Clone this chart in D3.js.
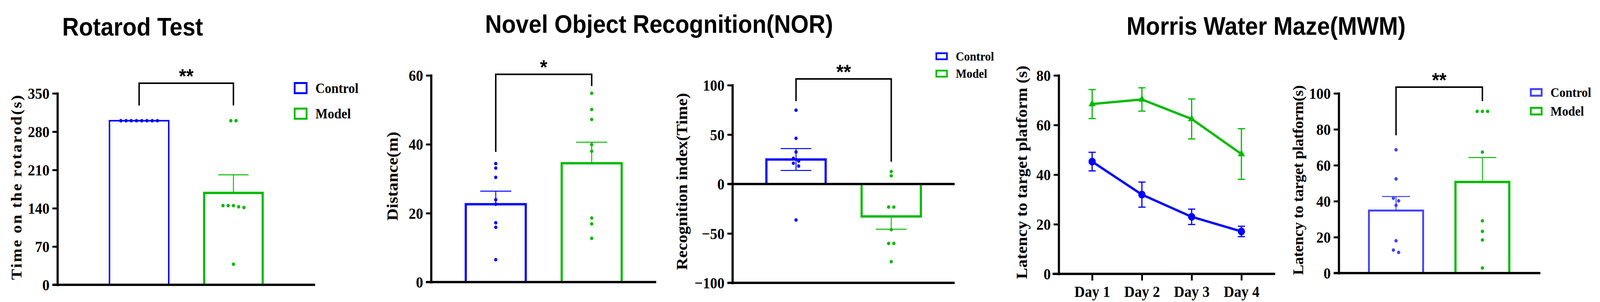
<!DOCTYPE html>
<html>
<head>
<meta charset="utf-8">
<script src="https://cdn.jsdelivr.net/npm/d3@7"></script>
<style>
  html, body { margin: 0; padding: 0; background: #ffffff; overflow: hidden; width: 100%; height: 100%; }
  #chart { width: 100vw; height: 100vh; }
  svg { display: block; width: 100vw; height: 100vh; }
</style>
</head>
<body>
<div id="chart"></div>
<script>
// ---------------- DATA ----------------
const groups = ["Control", "Model"];
const days = ["Day 1", "Day 2", "Day 3", "Day 4"];

const titles = ["Rotarod Test", "Novel Object Recognition(NOR)", "Morris Water Maze(MWM)"];

// Rotarod
const rotarodTicks = [0, 70, 140, 210, 280, 350];
const rotarodControl = [300, 300, 300, 300, 300, 300, 300, 300];
const rotarodModel = [300, 300, 144.8, 142.7, 144.8, 141.3, 144.8, 37.6];
const rotarodMean = [300, 168];
const rotarodSem = [0, 33];
const rotarodSig = { label: "**", level: 368.6, legs: [327.9, 327.9] };

// NOR distance
const norDistTicks = [0, 20, 40, 60];
const norDistControl = [34.4, 33.1, 30.4, 23.9, 22.6, 17.2, 15.9, 6.5];
const norDistModel = [54.8, 50.1, 47.2, 39.9, 38.0, 18.6, 16.9, 12.7];
const norDistMean = [22.6, 34.5];
const norDistSem = [3.8, 6.1];
const norDistSig = { label: "*", level: 60.3, legs: [37.8, 56.9] };

// NOR recognition index
const norRiTicks = [-100, -50, 0, 50, 100];
const norRiControl = [74.7, 46.2, 32.4, 26.0, 23.3, 21.0, 18.2, -36.4];
const norRiModel = [12.6, 8.3, -23.3, -23.3, -46.2, -60.1, -60.1, -78.6];
const norRiMean = [24.8, -32.8];
const norRiSem = [11.1, 13.0];
const norRiSig = { label: "**", level: 106.3, legs: [83.8, 22.5] };

// MWM latency over days
const mwmLineTicks = [0, 20, 40, 60, 80];
const mwmControlMean = [45.25, 31.95, 23.0, 17.1];
const mwmControlSem = [3.75, 5.05, 3.1, 2.1];
const mwmModelMean = [68.45, 70.3, 62.45, 48.3];
const mwmModelSem = [5.85, 4.7, 8.05, 10.2];

// MWM probe latency
const mwmBarTicks = [0, 20, 40, 60, 80, 100];
const mwmBarControl = [68.6, 52.4, 41.7, 40.2, 37.7, 18.0, 12.8, 11.5];
const mwmBarModel = [90, 90, 90, 67.3, 29.1, 23.2, 18.4, 2.8];
const mwmBarMean = [34.8, 50.7];
const mwmBarSem = [7.8, 13.6];
const mwmBarSig = { label: "**", level: 103.5, legs: [76.7, 95.7] };

const yTitles = ["Time on the rotarod(s)", "Distance(m)", "Recognition index(Time)",
                 "Latency to target platform (s)", "Latency to target platform(s)"];

// ---------------- STYLE ----------------
const BLUE = "#0000ff", BLUE2 = "#4040ff", GREEN = "#00bb00";
const SERIF = "'Liberation Serif', 'Times New Roman', serif";
const SANS = "'Liberation Sans', Arial, sans-serif";

const W = 4428, H = 773;
const svg = d3.select("#chart").append("svg")
  .attr("viewBox", `0 0 ${W} ${H}`).attr("preserveAspectRatio", "none");
svg.append("rect").attr("width", W).attr("height", H).attr("fill", "#fff");

// Titles
const titlePos = [[367, 91], [1824, 84], [3504, 89]];
titles.forEach((t, i) => {
  svg.append("text").attr("x", titlePos[i][0]).attr("y", titlePos[i][1])
    .attr("text-anchor", "middle").attr("font-family", SANS).attr("font-weight", "bold")
    .attr("font-size", 64).attr("fill", "#000").text(t);
});

function yAxis(g, y, ticks, axisX) {
  const ax = d3.axisLeft(y).tickValues(ticks).tickSize(14).tickSizeOuter(0).tickPadding(8)
    .tickFormat(d3.format("d"));
  const a = g.append("g").attr("transform", `translate(${axisX},0)`).call(ax);
  a.select(".domain").attr("stroke", "#000").attr("stroke-width", 6).attr("stroke-linecap", "square");
  a.selectAll(".tick line").attr("stroke", "#000").attr("stroke-width", 5);
  a.selectAll(".tick text").attr("font-family", SERIF).attr("font-weight", "bold")
    .attr("font-size", 40).attr("fill", "#000").attr("dy", "0.34em");
  return a;
}

function yTitle(g, text, bx, cy, len, fs) {
  g.append("text").attr("transform", `translate(${bx},${cy}) rotate(-90)`)
    .attr("text-anchor", "middle").attr("font-family", SERIF).attr("font-weight", "bold")
    .attr("font-size", fs).attr("fill", "#000")
    .attr("textLength", len).attr("lengthAdjust", "spacing").text(text);
}

function hline(g, x1, x2, yv, w) {
  g.append("line").attr("x1", x1).attr("x2", x2).attr("y1", yv).attr("y2", yv)
    .attr("stroke", "#000").attr("stroke-width", w);
}

function spread(values, y, cx, spacing = 14.5, thr = 9) {
  const pts = values.map(v => ({ v, y: y(v) })).sort((a, b) => a.y - b.y);
  const rows = []; let cur = null;
  pts.forEach(p => {
    if (cur && p.y - cur[0].y < thr) cur.push(p); else { cur = [p]; rows.push(cur); }
  });
  rows.forEach(r => r.forEach((p, i) => { p.x = cx + (i - (r.length - 1) / 2) * spacing; }));
  return pts;
}

function legend(g, x, ys, w, h, sw, fs, colors) {
  groups.forEach((name, i) => {
    g.append("rect").attr("x", x + sw / 2).attr("y", ys[i] - h / 2 + sw / 2)
      .attr("width", w - sw).attr("height", h - sw)
      .attr("fill", "#fff").attr("stroke", colors[i]).attr("stroke-width", sw);
    g.append("text").attr("x", x + w + 22).attr("y", ys[i]).attr("dy", "0.34em")
      .attr("font-family", SERIF).attr("font-weight", "bold").attr("font-size", fs)
      .attr("fill", "#000").text(name);
  });
}

function sig(g, x, y, s) {
  const yl = y(s.level);
  const xs = groups.map(x);
  g.append("path")
    .attr("d", `M${xs[0]},${y(s.legs[0])}V${yl}H${xs[1]}V${y(s.legs[1])}`)
    .attr("fill", "none").attr("stroke", "#000").attr("stroke-width", 4);
  g.append("text").attr("x", (xs[0] + xs[1]) / 2).attr("y", yl)
    .attr("text-anchor", "middle").attr("font-family", SANS).attr("font-weight", "bold")
    .attr("font-size", 52).attr("fill", "#000").text(s.label);
}

function barPanel(cfg) {
  const g = svg.append("g");
  const y = d3.scaleLinear().domain(cfg.domain).range(cfg.yRange);
  const x = d3.scalePoint().domain(groups).range(cfg.centers);
  const y0 = y(0);
  const pointSets = [cfg.control, cfg.model];
  groups.forEach((grp, i) => {
    const cx = x(grp), m = cfg.mean[i], sw = cfg.barStroke[i];
    const ym = y(m);
    g.append("rect").attr("x", cx - cfg.barW / 2 + sw / 2).attr("y", Math.min(ym, y0))
      .attr("width", cfg.barW - sw).attr("height", Math.abs(ym - y0))
      .attr("fill", "none").attr("stroke", cfg.colors[i]).attr("stroke-width", sw);
    const s = cfg.sem[i];
    if (s > 0) {
      const dir = m >= 0 ? 1 : -1;
      const ends = cfg.both[i] ? [m - s, m + s] : [m, m + dir * s];
      g.append("line").attr("x1", cx).attr("x2", cx).attr("y1", y(ends[0])).attr("y2", y(ends[1]))
        .attr("stroke", cfg.colors[i]).attr("stroke-width", 2.5);
      const capVals = cfg.both[i] ? ends : [ends[1]];
      capVals.forEach(v => {
        g.append("line").attr("x1", cx - cfg.barW / 4).attr("x2", cx + cfg.barW / 4)
          .attr("y1", y(v)).attr("y2", y(v)).attr("stroke", cfg.colors[i]).attr("stroke-width", 2.5);
      });
    }
    spread(pointSets[i], y, cx).forEach(p => {
      g.append("circle").attr("cx", p.x).attr("cy", p.y).attr("r", 4.5).attr("fill", cfg.colors[i]);
    });
  });
  yAxis(g, y, cfg.ticks, cfg.axisX);
  hline(g, cfg.axisX - 14, cfg.xRight, y0, 6);
  if (cfg.domain[0] < 0) hline(g, cfg.axisX - 14, cfg.xRight, y(cfg.domain[0]), 6);
  yTitle(g, cfg.yTitle, cfg.titleX, cfg.titleY, cfg.titleLen, cfg.titleFs);
  sig(g, x, y, cfg.sig);
  if (cfg.legend) legend(g, cfg.legend.x, cfg.legend.ys, cfg.legend.w, cfg.legend.h,
    cfg.legend.sw, cfg.legend.fs, cfg.colors);
}

// Panel 1: Rotarod
barPanel({
  domain: [0, 350], yRange: [729, 239], ticks: rotarodTicks, axisX: 159, xRight: 872,
  centers: [385, 646], barW: 168, barStroke: [4, 6], colors: [BLUE, GREEN],
  control: rotarodControl, model: rotarodModel, mean: rotarodMean, sem: rotarodSem,
  both: [false, false], sig: rotarodSig,
  yTitle: yTitles[0], titleX: 59, titleY: 480, titleLen: 473, titleFs: 42,
  legend: { x: 813, ys: [225.5, 291], w: 38, h: 31, sw: 5, fs: 36 }
});

// Panel 2: NOR distance
barPanel({
  domain: [0, 60], yRange: [722, 193], ticks: norDistTicks, axisX: 1193, xRight: 1816,
  centers: [1372, 1637.5], barW: 172, barStroke: [6, 6], colors: [BLUE, GREEN],
  control: norDistControl, model: norDistModel, mean: norDistMean, sem: norDistSem,
  both: [false, false], sig: norDistSig,
  yTitle: yTitles[1], titleX: 1101, titleY: 451, titleLen: 228, titleFs: 44
});

// Panel 3: NOR recognition index
barPanel({
  domain: [-100, 100], yRange: [724, 218], ticks: norRiTicks, axisX: 2027, xRight: 2642,
  centers: [2203, 2466.5], barW: 170, barStroke: [6, 6], colors: [BLUE, GREEN],
  control: norRiControl, model: norRiModel, mean: norRiMean, sem: norRiSem,
  both: [true, false], sig: norRiSig,
  yTitle: yTitles[2], titleX: 1902, titleY: 464.5, titleLen: 453, titleFs: 43,
  legend: { x: 2589, ys: [144, 188.5], w: 34, h: 20, sw: 4.5, fs: 32 }
});

// Panel 4: MWM line chart
(function () {
  const g = svg.append("g");
  const y = d3.scaleLinear().domain([0, 80]).range([701, 193]);
  const x = d3.scalePoint().domain(days).range([3022.5, 3435.6]);
  const axisX = 2930;
  const series = [
    { mean: mwmControlMean, sem: mwmControlSem, color: BLUE, shape: "circle" },
    { mean: mwmModelMean, sem: mwmModelSem, color: GREEN, shape: "triangle" }
  ];
  series.forEach(s => {
    days.forEach((d, i) => {
      const cx = x(d), lo = y(s.mean[i] - s.sem[i]), hi = y(s.mean[i] + s.sem[i]);
      g.append("line").attr("x1", cx).attr("x2", cx).attr("y1", lo).attr("y2", hi)
        .attr("stroke", s.color).attr("stroke-width", 3.3);
      [lo, hi].forEach(v => g.append("line").attr("x1", cx - 10).attr("x2", cx + 10)
        .attr("y1", v).attr("y2", v).attr("stroke", s.color).attr("stroke-width", 3));
    });
  });
  series.forEach(s => {
    const line = d3.line().x((d, i) => x(days[i])).y(d => y(d));
    g.append("path").attr("d", line(s.mean)).attr("fill", "none")
      .attr("stroke", s.color).attr("stroke-width", 6).attr("stroke-linejoin", "round");
  });
  series.forEach(s => {
    s.mean.forEach((v, i) => {
      if (s.shape === "circle") {
        g.append("circle").attr("cx", x(days[i])).attr("cy", y(v)).attr("r", 10).attr("fill", s.color);
      } else {
        g.append("path").attr("d", d3.symbol(d3.symbolTriangle, 170)())
          .attr("transform", `translate(${x(days[i])},${y(v)})`).attr("fill", s.color);
      }
    });
  });
  yAxis(g, y, mwmLineTicks, axisX);
  hline(g, axisX - 17, 3529, y(0), 6);
  const xa = d3.axisBottom(x).tickSize(17).tickSizeOuter(0).tickPadding(14);
  const a = g.append("g").attr("transform", `translate(0,${y(0)})`).call(xa);
  a.select(".domain").remove();
  a.selectAll(".tick line").attr("stroke", "#000").attr("stroke-width", 5);
  a.selectAll(".tick text").attr("font-family", SERIF).attr("font-weight", "bold")
    .attr("font-size", 40).attr("fill", "#000").attr("dy", "0.71em");
  yTitle(g, yTitles[3], 2842, 441, 546, 43);
})();

// Panel 5: MWM probe bar
barPanel({
  domain: [0, 100], yRange: [699, 239], ticks: mwmBarTicks, axisX: 3705, xRight: 4263,
  centers: [3863.5, 4102.5], barW: 155, barStroke: [5, 6], colors: [BLUE2, GREEN],
  control: mwmBarControl, model: mwmBarModel, mean: mwmBarMean, sem: mwmBarSem,
  both: [false, false], sig: mwmBarSig,
  yTitle: yTitles[4], titleX: 3606, titleY: 461, titleLen: 486, titleFs: 40,
  legend: { x: 4234, ys: [236.5, 284.5], w: 35, h: 22, sw: 5, fs: 34 }
});
</script>
</body>
</html>
